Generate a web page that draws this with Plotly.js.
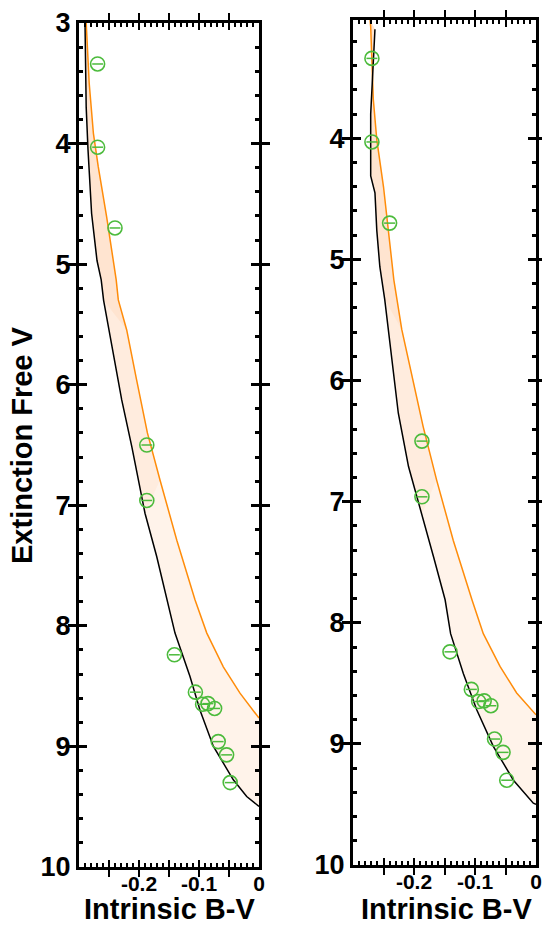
<!DOCTYPE html>
<html>
<head>
<meta charset="utf-8">
<script src="https://cdn.plot.ly/plotly-3.0.1.min.js"></script>
<style>html,body{margin:0;padding:0;background:#fff;}#chart{width:542px;height:927px;}</style>
</head>
<body>
<div id="chart"></div>
<script>
// Observed stars (same in both panels)
const starBV = [-0.269, -0.269, -0.240, -0.187, -0.187, -0.141, -0.106, -0.094, -0.085, -0.074, -0.068, -0.054, -0.048];
const starV  = [3.34, 4.03, 4.70, 6.50, 6.96, 8.24, 8.55, 8.65, 8.645, 8.685, 8.96, 9.07, 9.30];
const starBVerr = [0.009, 0.009, 0.009, 0.009, 0.009, 0.009, 0.009, 0.009, 0.009, 0.009, 0.009, 0.009, 0.009];

// Left panel model envelope
const leftBlackV  = [3.0, 3.7, 4.05, 4.28, 4.58, 4.97, 5.13, 5.3, 5.656, 6.126, 6.513, 7.066, 7.425, 7.784, 8.06, 8.42, 8.70, 9.0, 9.277, 9.415, 9.498];
const leftBlackBV = [-0.29, -0.288, -0.285, -0.282, -0.279, -0.270, -0.263, -0.259, -0.2455, -0.2288, -0.212, -0.19, -0.1705, -0.1528, -0.14, -0.115, -0.0983, -0.076, -0.0428, -0.0205, 0];
const leftOrangeV  = [3.0, 3.5, 3.915, 4.19, 4.606, 5.02, 5.13, 5.297, 5.546, 5.96, 6.40, 6.79, 7.29, 7.784, 8.06, 8.34, 8.558, 8.765];
const leftOrangeBV = [-0.288, -0.283, -0.276, -0.268, -0.254, -0.242, -0.238, -0.2345, -0.2205, -0.204, -0.186, -0.165, -0.137, -0.1067, -0.087, -0.0595, -0.0317, 0];

// Right panel model envelope
const rightBlackV  = [3.1, 3.8, 4.31, 4.45, 4.76, 5.06, 5.33, 5.72, 6.27, 6.71, 7.10, 7.455, 7.81, 8.09, 8.42, 8.72, 9.02, 9.30, 9.49, 9.50];
const rightBlackBV = [-0.264, -0.271, -0.271, -0.264, -0.261, -0.256, -0.248, -0.239, -0.2257, -0.209, -0.187, -0.168, -0.149, -0.14, -0.119, -0.097, -0.07, -0.037, -0.0044, 0];
const rightOrangeV  = [3.02, 3.08, 3.68, 4.01, 4.40, 4.78, 5.17, 5.58, 6.0, 6.38, 6.82, 7.32, 7.81, 8.09, 8.36, 8.58, 8.76];
const rightOrangeBV = [-0.272, -0.271, -0.2667, -0.261, -0.25, -0.242, -0.233, -0.22, -0.201, -0.185, -0.163, -0.1356, -0.105, -0.0864, -0.059, -0.0317, 0];

// Magnitude limits of the denser shading layers in the envelope
const shadeLimits = [5.6, 7.2];

const xTickVals = [-0.3, -0.25, -0.2, -0.15, -0.1, -0.05, 0];
const xTickText = ['', '', '-0.2', '', '-0.1', '', '0'];

const green = 'rgb(76,187,60)';
const orange = 'rgb(255,140,10)';

function band(xa, ya, bX, bY, oX, oY, lim, color) {
  const bx = [], by = [], ox = [], oy = [];
  bY.forEach((v, i) => { if (v <= lim) { bx.push(bX[i]); by.push(v); } });
  oY.forEach((v, i) => { if (v <= lim) { ox.push(oX[i]); oy.push(v); } });
  return {x: bx.concat(ox.reverse()), y: by.concat(oy.reverse()), xaxis: xa, yaxis: ya, type: 'scatter', mode: 'lines',
    fill: 'toself', fillcolor: color, line: {width: 0}, hoverinfo: 'skip', showlegend: false};
}

function panel(xa, ya, bX, bY, oX, oY) {
  return [
    band(xa, ya, bX, bY, oX, oY, 99, 'rgba(253,200,160,0.22)'),
    band(xa, ya, bX, bY, oX, oY, shadeLimits[1], 'rgba(253,190,140,0.12)'),
    band(xa, ya, bX, bY, oX, oY, shadeLimits[0], 'rgba(253,185,130,0.14)'),
    {x: oX, y: oY, xaxis: xa, yaxis: ya, type: 'scatter', mode: 'lines',
     line: {color: orange, width: 1.5}, showlegend: false},
    {x: bX, y: bY, xaxis: xa, yaxis: ya, type: 'scatter', mode: 'lines',
     line: {color: 'black', width: 1.5}, showlegend: false},
    {x: starBV, y: starV, xaxis: xa, yaxis: ya, type: 'scatter', mode: 'markers',
     marker: {symbol: 'circle-open', size: 14, color: green, line: {width: 1.6, color: green}},
     error_x: {type: 'data', array: starBVerr, color: green, thickness: 1.5, width: 0},
     showlegend: false}
  ];
}

const data = panel('x', 'y', leftBlackBV, leftBlackV, leftOrangeBV, leftOrangeV)
  .concat(panel('x2', 'y2', rightBlackBV, rightBlackV, rightOrangeBV, rightOrangeV))
  .concat([
    {x: [], y: [], xaxis: 'x3', yaxis: 'y', type: 'scatter', showlegend: false},
    {x: [], y: [], xaxis: 'x', yaxis: 'y3', type: 'scatter', showlegend: false},
    {x: [], y: [], xaxis: 'x4', yaxis: 'y2', type: 'scatter', showlegend: false},
    {x: [], y: [], xaxis: 'x2', yaxis: 'y4', type: 'scatter', showlegend: false}
  ]);

const tickFontY = {family: 'Liberation Sans, Arial, sans-serif', size: 27, color: 'black', weight: 'bold'};
const tickFontX = {family: 'Liberation Sans, Arial, sans-serif', size: 21, color: 'black', weight: 'bold'};
const titleFont = {family: 'Liberation Sans, Arial, sans-serif', size: 29, color: 'black', weight: 'bold'};

function xAxis(domain, anchor) {
  return {domain: domain, anchor: anchor, range: [-0.3, 0], tickmode: 'array', tickvals: xTickVals, ticktext: xTickText,
    ticks: 'inside', ticklen: 7, tickwidth: 2, tickcolor: '#000000', showline: true, linewidth: 3, linecolor: '#000000',
    mirror: 'allticks', showgrid: false, zeroline: false, tickfont: tickFontX, ticklabelstandoff: -4};
}
function xMinor(domain, anchor, over) {
  return {domain: domain, anchor: anchor, overlaying: over, range: [-0.3, 0], tickmode: 'linear', tick0: 0, dtick: 0.01,
    ticks: 'inside', ticklen: 4, tickwidth: 2, tickcolor: '#000000', showline: false, showticklabels: false,
    mirror: 'allticks', showgrid: false, zeroline: false};
}
function yAxis(domain, anchor, top) {
  return {domain: domain, anchor: anchor, range: [10, top], tickmode: 'linear', tick0: 3, dtick: 1,
    ticks: 'inside', ticklen: 8, tickwidth: 3, tickcolor: '#000000', showline: true, linewidth: 3, linecolor: '#000000',
    mirror: 'allticks', showgrid: false, zeroline: false, tickfont: tickFontY};
}
function yMinor(domain, anchor, top, over) {
  return {domain: domain, anchor: anchor, overlaying: over, range: [10, top], tickmode: 'linear', tick0: 3, dtick: 0.2,
    ticks: 'inside', ticklen: 4, tickwidth: 3, tickcolor: '#000000', showline: false, showticklabels: false,
    mirror: 'allticks', showgrid: false, zeroline: false};
}

const dX1 = [79/542, 259/542], dY1 = [1 - 867/927, 1 - 23/927];
const dX2 = [353/542, 536/542], dY2 = [1 - 865/927, 1 - 20/927];

const layout = {
  width: 542, height: 927,
  margin: {l: 0, r: 0, t: 0, b: 0},
  paper_bgcolor: 'white', plot_bgcolor: 'white',
  showlegend: false,
  xaxis: xAxis(dX1, 'y'),
  yaxis: yAxis(dY1, 'x', 3),
  xaxis2: xAxis(dX2, 'y2'),
  yaxis2: yAxis(dY2, 'x2', 3.023),
  xaxis3: xMinor(dX1, 'y', 'x'),
  yaxis3: yMinor(dY1, 'x', 3, 'y'),
  xaxis4: xMinor(dX2, 'y2', 'x2'),
  yaxis4: yMinor(dY2, 'x2', 3.023, 'y2'),
  annotations: [
    {text: 'Intrinsic B-V', xref: 'paper', yref: 'paper', x: 169/542, y: 0, xanchor: 'center', yanchor: 'bottom', showarrow: false, font: titleFont},
    {text: 'Intrinsic B-V', xref: 'paper', yref: 'paper', x: 446/542, y: 0, xanchor: 'center', yanchor: 'bottom', showarrow: false, font: titleFont},
    {text: 'Extinction Free V', xref: 'paper', yref: 'paper', x: 22/542, y: 1 - 445/927, xanchor: 'center', yanchor: 'middle', textangle: -90, showarrow: false, font: titleFont}
  ]
};

Plotly.newPlot('chart', data, layout, {displayModeBar: false});
</script>
</body>
</html>
